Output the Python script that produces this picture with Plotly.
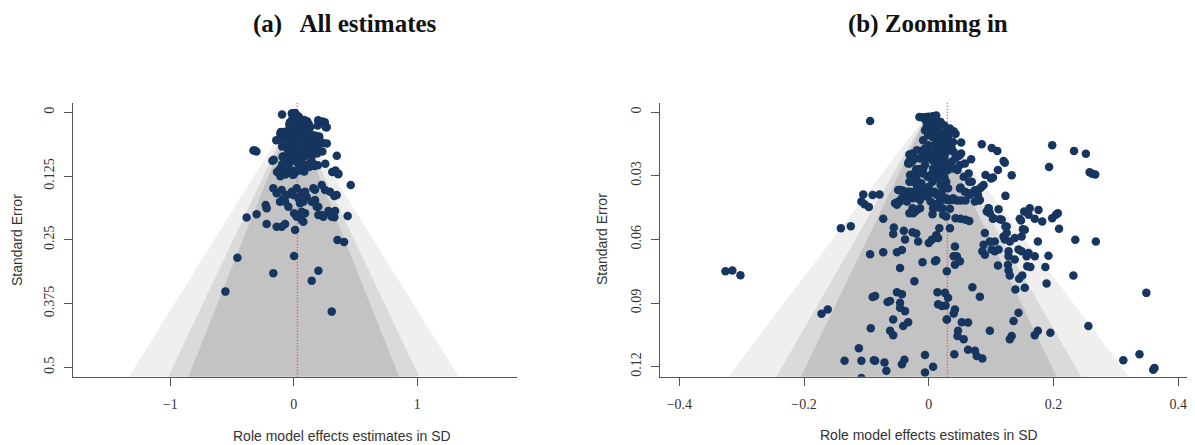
import plotly.graph_objects as go

# ---------------- data ----------------
# effect estimates (SD) and their standard errors
estimates = [
    -0.094, -0.015, -0.011, -0.006, -0.001, 0.006, 0.012, 0.008, -0.005, 0.000,
    0.005, 0.009, 0.012, 0.003, 0.015, 0.009, 0.019, 0.012, 0.006, 0.015,
    0.022, 0.012, 0.019, 0.009, 0.025, 0.015, 0.034, 0.040, 0.043, 0.052,
    0.085, 0.101, 0.110, 0.198, 0.233, 0.252, 0.193, 0.258, 0.262, 0.267,
    0.120, 0.122, 0.111, 0.091, 0.100, 0.103, 0.133, 0.068, 0.052, 0.049,
    0.043, 0.037, 0.040, 0.046, 0.056, 0.065, 0.051, 0.074, 0.085, 0.065,
    0.079, 0.081, 0.123, 0.059, 0.052, 0.046, 0.040, 0.034, 0.028, 0.022,
    0.015, 0.009,
    0.022, 0.012, 0.028, 0.019, 0.009, 0.025, 0.015, 0.006, 0.022, 0.012,
    0.028, 0.019, 0.009, 0.031, 0.022, 0.012, 0.003, 0.025, 0.015, 0.006,
    0.028, 0.019, 0.000, 0.031, 0.022, 0.037, 0.040, 0.034, 0.031, 0.028,
    0.025, 0.019, -0.003, -0.006, -0.001, -0.009, 0.000,
    -0.031, -0.026, -0.032, -0.031, -0.022, -0.012, -0.020, -0.015, -0.026, -0.031,
    -0.025, -0.020, -0.006, 0.000, -0.004, -0.006, -0.009, -0.002, -0.012, -0.019,
    -0.009, 0.001, -0.049, -0.042, -0.034, -0.028, -0.022, -0.014, -0.037, -0.054,
    -0.049, -0.043, -0.026, -0.019, -0.031, 0.003, 0.009, 0.015, 0.006, 0.022,
    0.023, 0.034, 0.028, -0.105, -0.090, -0.079, -0.108, -0.103, -0.096, -0.073,
    -0.056, -0.057, -0.040, -0.026, -0.020, 0.012, 0.017, 0.034, 0.043, 0.051,
    0.059, 0.065, -0.141, -0.125,
    0.148, 0.160, 0.153, 0.146, 0.162, 0.170, 0.176, 0.182, 0.198, 0.204,
    0.207, 0.209, 0.112, 0.103, 0.114, 0.093, 0.123, 0.090, 0.096, 0.151,
    0.154, 0.125,
    -0.094, -0.326, -0.315, -0.302, -0.172, -0.162, -0.093, -0.090, -0.112, -0.135,
    -0.108, -0.088, -0.108, 0.312, 0.338, 0.349, 0.362, 0.360,
    -0.073, -0.051, -0.043, -0.046, -0.010, 0.012, 0.029, 0.042, 0.045, 0.040,
    0.050, 0.042, -0.023, -0.051, -0.043, -0.066, -0.062, -0.046, -0.046, -0.038,
    -0.086, -0.057, -0.041, -0.033, -0.062, -0.057, -0.086, -0.071, -0.068, -0.043,
    -0.039, -0.006, -0.006, 0.007, 0.014, 0.026, 0.031, 0.015, 0.021, 0.027,
    0.029, 0.042, 0.040, 0.053, 0.063, 0.047, 0.046, 0.056, 0.041, 0.063,
    0.074, 0.077, 0.086, 0.070, 0.082, 0.098, 0.130, 0.133, 0.136, 0.144,
    0.139, 0.154, 0.145, 0.150, 0.128, 0.130, 0.127, 0.111, 0.158, 0.163,
    0.170, 0.187, 0.192, 0.189, 0.175, 0.170, 0.195, 0.232, 0.256, 0.235,
    0.268, 0.175, 0.088, 0.098, 0.106, 0.106, 0.128, 0.128, 0.138, 0.144,
    0.149, 0.160, 0.157, 0.101, 0.112, 0.090, 0.086, 0.122, 0.130, 0.138,
    0.149, 0.120, 0.010, 0.000, 0.005, 0.015, -0.017, -0.038, 0.029,
    0.462, -0.165, -0.138, -0.097, -0.057, -0.016, 0.024, 0.065, 0.092, 0.159,
    0.227, 0.254, 0.294, 0.329, -0.084, -0.111, -0.070, -0.043, -0.003, 0.038,
    0.051, 0.078, 0.146, 0.173, -0.227, -0.219, -0.300, -0.381, -0.219, -0.097,
    -0.070, 0.003, 0.024, 0.065, 0.092, 0.078, 0.065, 0.011, 0.186, 0.200,
    0.227, 0.281, 0.308, 0.335, 0.294, 0.329, 0.437, 0.354, 0.408, -0.456,
    0.003, -0.165, 0.200, 0.146, -0.553, 0.308,
    0.105, 0.172, 0.199, 0.240, 0.348, -0.138,
]
standard_errors = [
    0.0042, 0.0023, 0.0025, 0.0025, 0.0022, 0.0020, 0.0016, 0.0031, 0.0039, 0.0047,
    0.0055, 0.0063, 0.0070, 0.0078, 0.0086, 0.0094, 0.0102, 0.0109, 0.0117, 0.0125,
    0.0133, 0.0141, 0.0148, 0.0156, 0.0156, 0.0164, 0.0078, 0.0091, 0.0102, 0.0144,
    0.0152, 0.0169, 0.0183, 0.0156, 0.0183, 0.0197, 0.0259, 0.0284, 0.0291, 0.0294,
    0.0231, 0.0239, 0.0273, 0.0297, 0.0313, 0.0308, 0.0298, 0.0222, 0.0195, 0.0206,
    0.0216, 0.0234, 0.0266, 0.0273, 0.0305, 0.0328, 0.0356, 0.0369, 0.0352, 0.0383,
    0.0392, 0.0417, 0.0395, 0.0417, 0.0417, 0.0417, 0.0414, 0.0414, 0.0406, 0.0398,
    0.0391, 0.0375,
    0.0172, 0.0180, 0.0188, 0.0195, 0.0203, 0.0211, 0.0219, 0.0227, 0.0234, 0.0242,
    0.0250, 0.0258, 0.0266, 0.0273, 0.0281, 0.0289, 0.0297, 0.0305, 0.0313, 0.0328,
    0.0328, 0.0344, 0.0352, 0.0359, 0.0367, 0.0172, 0.0188, 0.0141, 0.0109, 0.0094,
    0.0063, 0.0047, 0.0063, 0.0086, 0.0109, 0.0133, 0.0156,
    0.0200, 0.0195, 0.0234, 0.0242, 0.0219, 0.0184, 0.0269, 0.0269, 0.0294, 0.0328,
    0.0320, 0.0313, 0.0172, 0.0188, 0.0219, 0.0250, 0.0289, 0.0305, 0.0336, 0.0359,
    0.0367, 0.0375, 0.0367, 0.0370, 0.0375, 0.0383, 0.0388, 0.0391, 0.0398, 0.0430,
    0.0422, 0.0406, 0.0453, 0.0461, 0.0477, 0.0422, 0.0433, 0.0450, 0.0481, 0.0453,
    0.0484, 0.0456, 0.0492, 0.0388, 0.0391, 0.0388, 0.0422, 0.0434, 0.0447, 0.0503,
    0.0544, 0.0575, 0.0559, 0.0566, 0.0572, 0.0581, 0.0547, 0.0547, 0.0500, 0.0503,
    0.0508, 0.0513, 0.0547, 0.0538,
    0.0511, 0.0484, 0.0469, 0.0503, 0.0453, 0.0503, 0.0461, 0.0516, 0.0500, 0.0484,
    0.0477, 0.0550, 0.0458, 0.0503, 0.0505, 0.0469, 0.0539, 0.0570, 0.0453, 0.0552,
    0.0555, 0.0570,
    0.0670, 0.0750, 0.0747, 0.0769, 0.0950, 0.0930, 0.1019, 0.0872, 0.1113, 0.1172,
    0.1172, 0.1169, 0.1253, 0.1169, 0.1141, 0.0852, 0.1206, 0.1214,
    0.0661, 0.0661, 0.0650, 0.0735, 0.0708, 0.0698, 0.0750, 0.0633, 0.0680, 0.0680,
    0.0703, 0.0719, 0.0797, 0.0849, 0.0859, 0.0895, 0.0890, 0.0899, 0.0922, 0.0938,
    0.0867, 0.0977, 0.1008, 0.0990, 0.1031, 0.1052, 0.1172, 0.1180, 0.1219, 0.1188,
    0.1167, 0.1145, 0.1227, 0.1200, 0.0849, 0.0852, 0.0875, 0.0906, 0.0914, 0.0911,
    0.0977, 0.0930, 0.0949, 0.0990, 0.0992, 0.1031, 0.1055, 0.1070, 0.1141, 0.1120,
    0.1125, 0.1149, 0.1161, 0.0825, 0.0870, 0.1031, 0.1070, 0.1055, 0.0985, 0.0946,
    0.0836, 0.0828, 0.0786, 0.0770, 0.0747, 0.0770, 0.0719, 0.0723, 0.0727, 0.0730,
    0.0680, 0.0730, 0.0677, 0.0808, 0.1031, 0.1052, 0.1040, 0.0770, 0.1008, 0.0602,
    0.0610, 0.0610, 0.0625, 0.0610, 0.0610, 0.0656, 0.0656, 0.0680, 0.0695, 0.0648,
    0.0656, 0.0664, 0.0680, 0.0648, 0.0648, 0.0672, 0.0656, 0.0600, 0.0610, 0.0594,
    0.0586, 0.0586, 0.0703, 0.0617, 0.0602, 0.0594, 0.0610, 0.0600, 0.0977,
    0.1425, 0.1490, 0.1588, 0.1523, 0.1621, 0.1556, 0.1490, 0.1588, 0.1556, 0.1490,
    0.1425, 0.1523, 0.1556, 0.1640, 0.1686, 0.1752, 0.1752, 0.1850, 0.1621, 0.1686,
    0.1784, 0.1752, 0.1752, 0.1719, 0.1817, 0.1882, 0.2000, 0.2065, 0.2190, 0.2242,
    0.2190, 0.1980, 0.2046, 0.1948, 0.1980, 0.2144, 0.2111, 0.2307, 0.1850, 0.2013,
    0.2013, 0.1935, 0.2046, 0.1935, 0.1980, 0.2059, 0.2033, 0.2503, 0.2542, 0.2850,
    0.2817, 0.3157, 0.3105, 0.3301, 0.3516, 0.3908,
    0.1655, 0.1520, 0.1850, 0.2047, 0.1622, 0.2243,
]

# extra estimates read from the dense centre of the funnel (top of panel b)
center_estimates = [
    -0.030, -0.027, -0.033, -0.019, -0.011, -0.014, -0.003, -0.030, -0.022, -0.014,
    -0.009, -0.025, -0.017, -0.014, -0.046, -0.041, -0.030, -0.035, -0.046, -0.051,
    -0.025, -0.014, -0.003, 0.002, 0.013, 0.018, 0.029, 0.039, 0.007, -0.014,
    -0.022, -0.025,
    0.029, 0.037, 0.042, 0.031, 0.039, 0.026, 0.010, 0.015, 0.021, 0.023,
    0.026, 0.007, 0.018,
    0.050, 0.058, 0.064, 0.069, 0.082, 0.088, 0.077, 0.066, 0.058, 0.050,
    0.074, 0.082, 0.096, 0.104, 0.117, 0.125, 0.098,
]
center_standard_errors = [
    0.0203, 0.0234, 0.0242, 0.0180, 0.0188, 0.0219, 0.0211, 0.0297, 0.0305, 0.0281,
    0.0266, 0.0328, 0.0336, 0.0367, 0.0367, 0.0383, 0.0375, 0.0422, 0.0422, 0.0437,
    0.0406, 0.0414, 0.0398, 0.0383, 0.0390, 0.0422, 0.0414, 0.0406, 0.0453, 0.0453,
    0.0469, 0.0477,
    0.0102, 0.0094, 0.0102, 0.0125, 0.0141, 0.0156, 0.0094, 0.0109, 0.0172, 0.0203,
    0.0234, 0.0266, 0.0250,
    0.0250, 0.0242, 0.0289, 0.0328, 0.0360, 0.0344, 0.0383, 0.0390, 0.0375, 0.0360,
    0.0422, 0.0414, 0.0453, 0.0500, 0.0508, 0.0539, 0.0477,
]

all_estimates = estimates + center_estimates
all_standard_errors = standard_errors + center_standard_errors

summary_estimate = 0.03                      # red dotted reference line
contour_z = [2.576, 1.960, 1.645]            # 99%, 95%, 90% contours
contour_colors = ["#efefef", "#dadada", "#c3c3c3"]

# panel settings
panels = [
    dict(xaxis="x", yaxis="y", xrange=[-1.787, 1.808], yrange=[0.5184, -0.0188],
         yticks=[0, 0.125, 0.25, 0.375, 0.5], yticktext=["0", "0.125", "0.25", "0.375", "0.5"],
         xticks=[-1, 0, 1], xticktext=["\u22121", "0", "1"]),
    dict(xaxis="x2", yaxis="y2", xrange=[-0.431, 0.427], yrange=[0.1247, -0.0044],
         yticks=[0, 0.03, 0.06, 0.09, 0.12], yticktext=["0", "0.03", "0.06", "0.09", "0.12"],
         xticks=[-0.4, -0.2, 0, 0.2, 0.4], xticktext=["\u22120.4", "\u22120.2", "0", "0.2", "0.4"]),
]

# the page places the figure 8 px from the window's top-left corner
OFF = 8
W, H = 1195 - OFF, 445 - OFF

def px_x(v):
    return (v - OFF) / W

def px_y(v):
    return 1 - (v - OFF) / H

fig = go.Figure()

for p in panels:
    se_max = p["yrange"][0]
    for z, col in zip(contour_z, contour_colors):
        fig.add_trace(go.Scatter(
            x=[0, -z * se_max, z * se_max, 0], y=[0, se_max, se_max, 0],
            mode="lines", fill="toself", fillcolor=col, line=dict(width=0),
            hoverinfo="skip", showlegend=False, xaxis=p["xaxis"], yaxis=p["yaxis"]))
    fig.add_trace(go.Scatter(
        x=[summary_estimate, summary_estimate], y=[p["yrange"][1], p["yrange"][0]],
        mode="lines", line=dict(color="#ff3b4e", width=1.4, dash="1px,2px"),
        hoverinfo="skip", showlegend=False, xaxis=p["xaxis"], yaxis=p["yaxis"]))
    fig.add_trace(go.Scatter(
        x=all_estimates, y=all_standard_errors, mode="markers",
        marker=dict(size=8.5, color="#163660", line=dict(width=0)),
        showlegend=False, xaxis=p["xaxis"], yaxis=p["yaxis"]))

tickfont = dict(family="Liberation Serif, Times New Roman, serif", size=14, color="#333333")
axis_common = dict(showgrid=False, zeroline=False, showline=True, linecolor="#555555",
                   linewidth=1.3, ticks="outside", ticklen=8, tickcolor="#555555",
                   tickwidth=1.2, mirror=False, tickfont=tickfont)

fig.update_layout(
    width=W, height=H, autosize=False,
    margin=dict(l=0, r=0, t=0, b=0),
    paper_bgcolor="white", plot_bgcolor="white",
    xaxis=dict(domain=[px_x(73), px_x(517)], range=panels[0]["xrange"],
               tickvals=panels[0]["xticks"], ticktext=panels[0]["xticktext"],
               anchor="y", ticklabelstandoff=6, **axis_common),
    yaxis=dict(domain=[px_y(376.7), px_y(102.7)], range=panels[0]["yrange"],
               tickvals=panels[0]["yticks"], ticktext=panels[0]["yticktext"],
               tickangle=-90, anchor="x", ticklabelstandoff=4, **axis_common),
    xaxis2=dict(domain=[px_x(660), 1.0], range=panels[1]["xrange"],
                tickvals=panels[1]["xticks"], ticktext=panels[1]["xticktext"],
                anchor="y2", ticklabelstandoff=6, **axis_common),
    yaxis2=dict(domain=[px_y(376.7), px_y(102.7)], range=panels[1]["yrange"],
                tickvals=panels[1]["yticks"], ticktext=panels[1]["yticktext"],
                tickangle=-90, anchor="x2", ticklabelstandoff=4, **axis_common),
)

title_font = dict(family="Liberation Serif, Times New Roman, serif", size=25, color="#111111")
label_font = dict(family="Liberation Sans, Arial, sans-serif", size=14, color="#333333")
annotations = [
    dict(text="<b>(a)\u00a0\u00a0 All estimates</b>", x=px_x(345), y=px_y(24), font=title_font),
    dict(text="<b>(b) Zooming in</b>", x=px_x(928), y=px_y(24), font=title_font),
    dict(text="Standard Error", x=px_x(17), y=px_y(240), textangle=-90, font=label_font),
    dict(text="Standard Error", x=px_x(602), y=px_y(239), textangle=-90, font=label_font),
    dict(text="Role model effects estimates in SD", x=px_x(342), y=px_y(436), font=label_font),
    dict(text="Role model effects estimates in SD", x=px_x(929), y=px_y(435), font=label_font),
]
for a in annotations:
    a.update(xref="paper", yref="paper", showarrow=False, xanchor="center", yanchor="middle")
fig.update_layout(annotations=annotations)

fig.write_html("out.html")
